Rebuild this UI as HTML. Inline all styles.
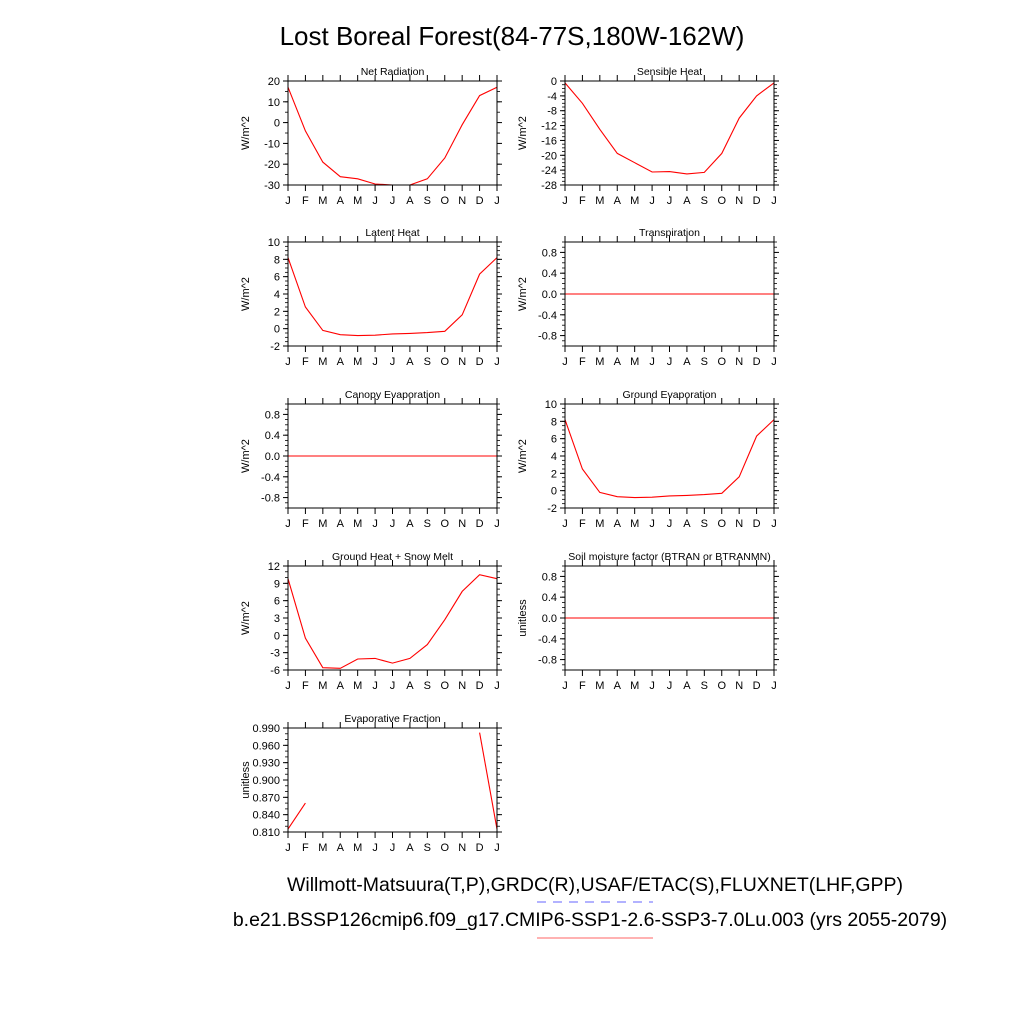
<!DOCTYPE html>
<html><head><meta charset="utf-8"><style>
body{margin:0;background:#fff;}
svg{display:block;font-family:"Liberation Sans",sans-serif;}
</style></head><body>
<svg id="fig" width="1024" height="1024" viewBox="0 0 1024 1024">
<text x="512" y="45" font-size="26" text-anchor="middle">Lost Boreal Forest(84-77S,180W-162W)</text>
<text x="595" y="891" font-size="19.5" text-anchor="middle">Willmott-Matsuura(T,P),GRDC(R),USAF/ETAC(S),FLUXNET(LHF,GPP)</text>
<line x1="537" y1="902" x2="653" y2="902" stroke="#9999ff" stroke-width="1.5" stroke-dasharray="9,7"/>
<text x="590" y="926" font-size="19.5" text-anchor="middle">b.e21.BSSP126cmip6.f09_g17.CMIP6-SSP1-2.6-SSP3-7.0Lu.003 (yrs 2055-2079)</text>
<line x1="537" y1="938" x2="653" y2="938" stroke="#ff9999" stroke-width="1.5"/>
</svg>
<script>
const months=["J","F","M","A","M","J","J","A","S","O","N","D","J"];
const netRad=[17,-4,-19,-26,-27,-29.5,-30,-30,-27,-17,-1,13,17];
const sensible=[-0.5,-6,-13,-19.5,-22,-24.5,-24.4,-25,-24.6,-19.5,-10,-4,-0.5];
const latent=[8.2,2.5,-0.2,-0.7,-0.8,-0.75,-0.6,-0.55,-0.45,-0.3,1.6,6.3,8.2];
const transp=[0,0,0,0,0,0,0,0,0,0,0,0,0];
const canopy=[0,0,0,0,0,0,0,0,0,0,0,0,0];
const groundEvap=[8.2,2.5,-0.2,-0.7,-0.8,-0.75,-0.6,-0.55,-0.45,-0.3,1.6,6.3,8.2];
const groundHeat=[9.8,-0.5,-5.6,-5.7,-4.1,-4,-4.8,-4,-1.6,2.7,7.6,10.5,9.8];
const btran=[0,0,0,0,0,0,0,0,0,0,0,0,0];
const evapFrac=[0.815,0.860,null,null,null,null,null,null,null,null,null,0.982,0.815];
const panels=[
 {t:"Net Radiation",d:netRad,col:0,row:0,min:-30,max:20,ticks:[-30,-20,-10,0,10,20],fmt:v=>""+v,u:"W/m^2",minor:5},
 {t:"Sensible Heat",d:sensible,col:1,row:0,min:-28,max:0,ticks:[-28,-24,-20,-16,-12,-8,-4,0],fmt:v=>""+v,u:"W/m^2",minor:1},
 {t:"Latent Heat",d:latent,col:0,row:1,min:-2,max:10,ticks:[-2,0,2,4,6,8,10],fmt:v=>""+v,u:"W/m^2",minor:0.5},
 {t:"Transpiration",d:transp,col:1,row:1,min:-1,max:1,ticks:[-0.8,-0.4,0,0.4,0.8],fmt:v=>v.toFixed(1),u:"W/m^2",minor:0.1},
 {t:"Canopy Evaporation",d:canopy,col:0,row:2,min:-1,max:1,ticks:[-0.8,-0.4,0,0.4,0.8],fmt:v=>v.toFixed(1),u:"W/m^2",minor:0.1},
 {t:"Ground Evaporation",d:groundEvap,col:1,row:2,min:-2,max:10,ticks:[-2,0,2,4,6,8,10],fmt:v=>""+v,u:"W/m^2",minor:0.5},
 {t:"Ground Heat + Snow Melt",d:groundHeat,col:0,row:3,min:-6,max:12,ticks:[-6,-3,0,3,6,9,12],fmt:v=>""+v,u:"W/m^2",minor:1},
 {t:"Soil moisture factor (BTRAN or BTRANMN)",d:btran,col:1,row:3,min:-1,max:1,ticks:[-0.8,-0.4,0,0.4,0.8],fmt:v=>v.toFixed(1),u:"unitless",minor:0.1},
 {t:"Evaporative Fraction",d:evapFrac,col:0,row:4,min:0.81,max:0.99,ticks:[0.81,0.84,0.87,0.90,0.93,0.96,0.99],fmt:v=>v.toFixed(3),u:"unitless",minor:0.01}
];
const NS="http://www.w3.org/2000/svg";
const svg=document.getElementById("fig");
function mk(tag,attrs,parent){const e=document.createElementNS(NS,tag);for(const k in attrs)e.setAttribute(k,attrs[k]);parent.appendChild(e);return e;}
const colX=[288,565],rowY=[81,242,404,566,728],W=209,H=104;
panels.forEach((p,pi)=>{
 const x0=colX[p.col],y0=rowY[p.row];
 const g=mk("g",{},svg);
 
 
 const xs=i=>x0+i*W/12;
 const ys=v=>y0+H-(v-p.min)/(p.max-p.min)*H;
 const t=mk("text",{x:x0+W/2,y:y0-6,"font-size":"10.5","text-anchor":"middle"},g);t.textContent=p.t;
 
 
 // minor y ticks
 const n=Math.round((p.max-p.min)/p.minor);
 for(let k=0;k<=n;k++){const v=p.min+k*p.minor,y=ys(v);
  mk("line",{x1:x0-3,y1:y,x2:x0,y2:y,stroke:"#000","stroke-width":"0.8"},g);
  mk("line",{x1:x0+W,y1:y,x2:x0+W+3,y2:y,stroke:"#000","stroke-width":"0.8"},g);}
 p.ticks.forEach(v=>{const y=ys(v);
  mk("line",{x1:x0-5,y1:y,x2:x0,y2:y,stroke:"#000","stroke-width":"1"},g);
  mk("line",{x1:x0+W,y1:y,x2:x0+W+5,y2:y,stroke:"#000","stroke-width":"1"},g);
  const l=mk("text",{x:x0-8,y:y+4,"font-size":"11","text-anchor":"end"},g);l.textContent=p.fmt(v);
  
  });
 months.forEach((m,i)=>{const x=xs(i);
  mk("line",{x1:x,y1:y0-6,x2:x,y2:y0,stroke:"#000","stroke-width":"1"},g);
  mk("line",{x1:x,y1:y0+H,x2:x,y2:y0+H+6,stroke:"#000","stroke-width":"1"},g);
  const l=mk("text",{x:x,y:y0+H+19,"font-size":"11","text-anchor":"middle"},g);l.textContent=m;
  
  });
 const ux=x0-39,uy=y0+H/2;
 const u=mk("text",{x:ux,y:uy,"font-size":"11","text-anchor":"middle",transform:`rotate(-90 ${ux} ${uy})`},g);u.textContent=p.u;
 
 
 let seg=[],segs=[];
 p.d.forEach((v,i)=>{if(v===null){if(seg.length)segs.push(seg);seg=[];}else seg.push(xs(i).toFixed(1)+","+ys(v).toFixed(1));});
 if(seg.length)segs.push(seg);
 segs.forEach(s=>{if(s.length>1){const pl=mk("polyline",{points:s.join(" "),fill:"none",stroke:"#ff0000","stroke-width":"1.1"},g);
  
  }});
 const r=mk("rect",{x:x0,y:y0,width:W,height:H,fill:"none",stroke:"#000","stroke-width":"1"},g);
 
 
});
</script>
</body></html>
